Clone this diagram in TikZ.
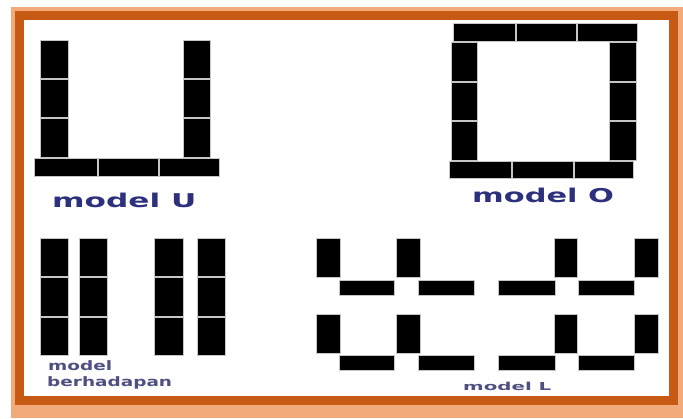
\documentclass[tikz,border=0pt]{standalone}
\usepackage{fontspec}
\setmainfont{DejaVu Sans}
\definecolor{lightor}{RGB}{243,170,122}
\definecolor{darkor}{RGB}{198,90,20}
\definecolor{navy}{RGB}{45,48,125}
\definecolor{softnavy}{RGB}{78,80,130}
\tikzset{
  blk/.style={fill=black, draw=gray!45, line width=0.9pt},
  bigtxt/.style={anchor=base west, inner sep=0pt, text=navy, font=\bfseries\fontsize{19}{20}\selectfont},
  smalltxt/.style={anchor=base west, inner sep=0pt, text=softnavy, font=\bfseries\fontsize{13}{14}\selectfont},
}
\begin{document}
\begin{tikzpicture}[x=1pt,y=-1pt]
\useasboundingbox (0,0) rectangle (683,418);
% frame
\fill[white] (0,0) rectangle (683,418);
\fill[lightor] (11,7) rectangle (683,418);
\fill[darkor] (15,11) rectangle (678,405);
\fill[white] (24,20) rectangle (669,396);

% model U
\foreach \xa/\xb in {40/68,183/210}{
  \foreach \ya/\yb in {40/78,79/117,118/157}{
    \draw[blk] (\xa,\ya) rectangle (\xb,\yb);
  }
}
\foreach \xa/\xb in {34/97,98/158,159/219}{
  \draw[blk] (\xa,158) rectangle (\xb,176);
}
\node[bigtxt] (tU) at (52,207) {\scalebox{1.64}[1]{model U}};

% model O
\foreach \xa/\xb in {453/515,516/576,577/637}{
  \draw[blk] (\xa,23) rectangle (\xb,41);
}
\foreach \xa/\xb in {451/477,609/636}{
  \foreach \ya/\yb in {42/81,82/120,121/160}{
    \draw[blk] (\xa,\ya) rectangle (\xb,\yb);
  }
}
\foreach \xa/\xb in {449/511,512/573,574/633}{
  \draw[blk] (\xa,161) rectangle (\xb,178);
}
\node[bigtxt] (tO) at (472,202) {\scalebox{1.6}[1]{model O}};

% model berhadapan
\foreach \xa/\xb in {40/68,79/107,154/183,197/225}{
  \foreach \ya/\yb in {238/276,277/316,317/355}{
    \draw[blk] (\xa,\ya) rectangle (\xb,\yb);
  }
}
\node[smalltxt] (tB1) at (48,370) {\scalebox{1.42}[1]{model}};
\node[smalltxt] (tB2) at (47,386) {\scalebox{1.42}[1]{berhadapan}};

% model L
\foreach \ya/\yb/\ha/\hb in {238/277/280/295, 314/353/355/370}{
  \foreach \xa/\xb in {316/340,396/420,554/577,634/658}{
    \draw[blk] (\xa,\ya) rectangle (\xb,\yb);
  }
  \foreach \xa/\xb in {339/394,418/474,498/555,578/634}{
    \draw[blk] (\xa,\ha) rectangle (\xb,\hb);
  }
}
\node[smalltxt, font=\bfseries\fontsize{11}{12}\selectfont] (tL) at (463,390) {\scalebox{1.8}[1]{model L}};
\end{tikzpicture}
\end{document}
